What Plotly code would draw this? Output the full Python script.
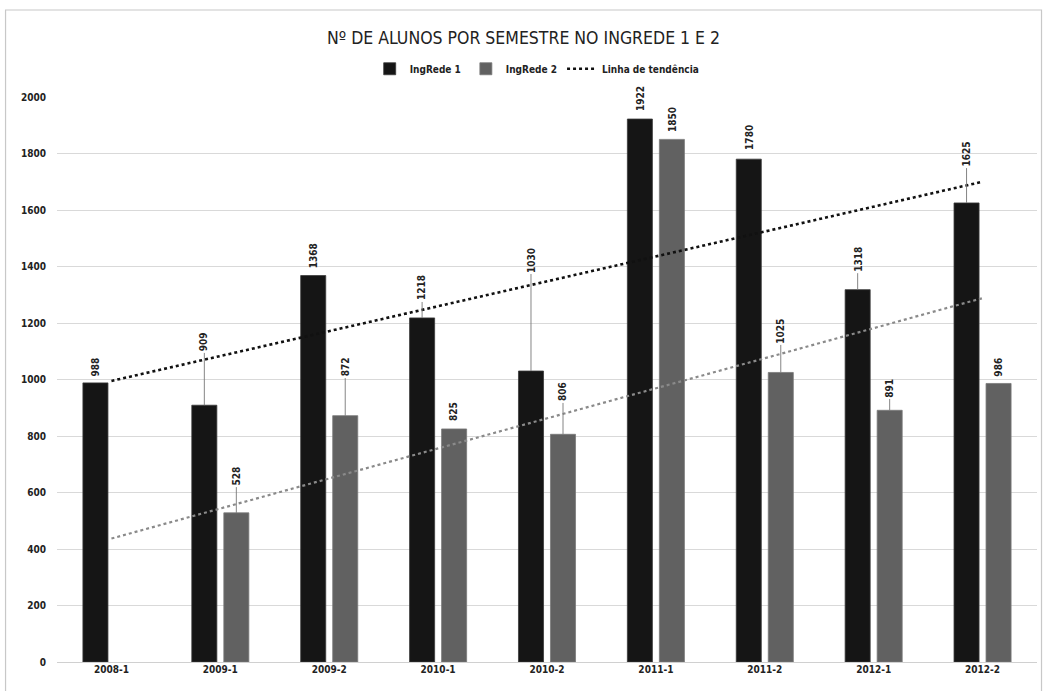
import plotly.graph_objects as go

# ---- data ----
categories = ['2008-1', '2009-1', '2009-2', '2010-1', '2010-2', '2011-1', '2011-2', '2012-1', '2012-2']
ingrede1 = [988, 909, 1368, 1218, 1030, 1922, 1780, 1318, 1625]
ingrede2 = [None, 528, 872, 825, 806, 1850, 1025, 891, 986]
trend1_ends = [995, 1700]   # linha de tendência IngRede 1 (first / last category)
trend2_ends = [437, 1288]   # linha de tendência IngRede 2 (first / last category)

# where each data label sits (value units) and whether it has a leader line
label1_y = [1044, 1133, 1437, 1324, 1423, 1996, 1858, 1426, 1798]
label1_leader = [False, True, False, True, True, False, False, True, True]
label2_y = [None, 658, 1044, 885, 956, 1922, 1172, 970, 1044]
label2_leader = [False, True, True, False, True, False, True, True, False]

# ---- styling ----
FONT = "DejaVu Sans Condensed, Liberation Sans Narrow, Liberation Sans, Arial"
C1 = "#151515"
C2 = "#616161"
BAR_W = 0.23
OFF1 = -0.262
OFF2 = 0.032

xs = list(range(len(categories)))

fig = go.Figure()
fig.add_trace(go.Bar(
    x=xs, y=ingrede1, name="IngRede 1", width=BAR_W, offset=OFF1,
    marker=dict(color=C1, line=dict(color="#3a3a3a", width=0.8)),
))
fig.add_trace(go.Bar(
    x=xs, y=ingrede2, name="IngRede 2", width=BAR_W, offset=OFF2,
    marker=dict(color=C2, line=dict(color="#7a7a7a", width=0.8)),
))
fig.add_trace(go.Scatter(
    x=[xs[0], xs[-1]], y=trend1_ends, mode="lines", name="Linha de tendência",
    line=dict(color="#111111", width=2.6, dash="dot"),
))
fig.add_trace(go.Scatter(
    x=[xs[0], xs[-1]], y=trend2_ends, mode="lines", name="Linha de tendência 2",
    showlegend=False,
    line=dict(color="#8a8a8a", width=2.2, dash="dot"),
))

annotations = []
def add_labels(values, label_y, leaders, offset):
    for i, (v, ly, lead) in enumerate(zip(values, label_y, leaders)):
        if v is None:
            continue
        cx = xs[i] + offset + BAR_W / 2
        base = dict(text=str(v), textangle=-90,
                    font=dict(family=FONT, size=10, color="#222222", weight="bold"),
                    xref="x", yref="y")
        if lead:
            annotations.append(dict(base, x=cx, y=v, ax=cx, ay=ly,
                                    axref="x", ayref="y", showarrow=True,
                                    arrowhead=0, arrowwidth=0.9,
                                    arrowcolor="#777777", standoff=0))
        else:
            annotations.append(dict(base, x=cx, y=ly, showarrow=False))

add_labels(ingrede1, label1_y, label1_leader, OFF1)
add_labels(ingrede2, label2_y, label2_leader, OFF2)

# outer chart frame
shapes = [dict(type="rect", xref="paper", yref="paper",
               x0=-0.0525, x1=1.0046, y0=-0.06, y1=1.154,
               line=dict(color="#c8c8c8", width=1.2), fillcolor="rgba(0,0,0,0)",
               layer="below")]

fig.update_layout(
    width=1047, height=691,
    margin=dict(l=57, r=10, t=97, b=29),
    paper_bgcolor="white", plot_bgcolor="white",
    barmode="overlay",
    title=dict(text="Nº DE ALUNOS POR SEMESTRE NO INGREDE 1 E 2",
               x=0.5, xanchor="center", y=1 - 38 / 691, yanchor="middle",
               yref="container",
               font=dict(family=FONT, size=17.5, color="#222222")),
    legend=dict(orientation="h", x=0.49, xanchor="center", y=1.05, yanchor="middle",
                font=dict(family=FONT, size=10, color="#222222", weight="bold"),
                bgcolor="rgba(0,0,0,0)", itemwidth=30),
    xaxis=dict(range=[-0.5, 8.5], tickmode="array", tickvals=xs, ticktext=categories,
               showgrid=False, zeroline=False, showline=False, ticks="",
               tickfont=dict(family=FONT, size=10, color="#222222", weight="bold")),
    yaxis=dict(range=[0, 2000], dtick=200, showgrid=True, gridcolor="#d9d9d9",
               gridwidth=1, zeroline=True, zerolinecolor="#d0d0d0", zerolinewidth=1,
               showline=False, ticks="", ticklabelstandoff=10,
               tickfont=dict(family=FONT, size=10, color="#222222", weight="bold")),
    annotations=annotations,
    shapes=shapes,
    showlegend=True,
)

fig.write_html("out.html", config={"displayModeBar": False},
               post_script="document.body.style.margin='0';document.body.style.padding='0';")
